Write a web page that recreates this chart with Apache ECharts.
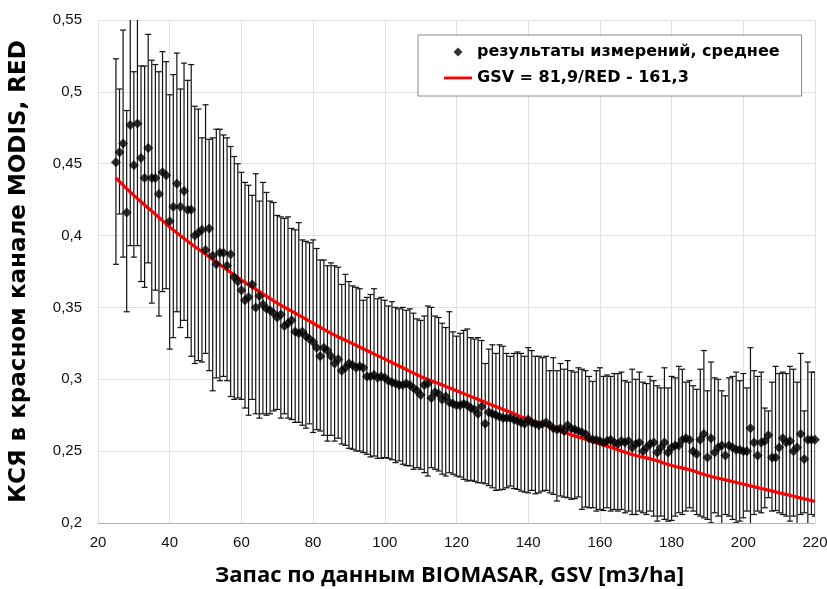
<!DOCTYPE html>
<html><head><meta charset="utf-8">
<script src="https://cdn.jsdelivr.net/npm/echarts@6/dist/echarts.min.js"></script>
<style>html,body{margin:0;padding:0;background:#fff}#c{width:827px;height:589px}</style>
</head><body><div id="c"></div>
<script>
const gsv = [
25,26,27,28,29,30,31,32,33,34,35,36,37,38,39,40,41,42,43,44,
45,46,47,48,49,50,51,52,53,54,55,56,57,58,59,60,61,62,63,64,
65,66,67,68,69,70,71,72,73,74,75,76,77,78,79,80,81,82,83,84,
85,86,87,88,89,90,91,92,93,94,95,96,97,98,99,100,101,102,103,104,
105,106,107,108,109,110,111,112,113,114,115,116,117,118,119,120,121,122,123,124,
125,126,127,128,129,130,131,132,133,134,135,136,137,138,139,140,141,142,143,144,
145,146,147,148,149,150,151,152,153,154,155,156,157,158,159,160,161,162,163,164,
165,166,167,168,169,170,171,172,173,174,175,176,177,178,179,180,181,182,183,184,
185,186,187,188,189,190,191,192,193,194,195,196,197,198,199,200,201,202,203,204,
205,206,207,208,209,210,211,212,213,214,215,216,217,218,219,220];
const meanRed = [
0.451,0.458,0.464,0.416,0.477,0.449,0.478,0.454,0.440,0.461,
0.440,0.440,0.429,0.444,0.442,0.410,0.420,0.436,0.420,0.431,
0.418,0.418,0.400,0.402,0.404,0.390,0.405,0.386,0.380,0.388,
0.388,0.379,0.387,0.371,0.368,0.362,0.355,0.357,0.366,0.350,
0.358,0.352,0.349,0.348,0.346,0.343,0.345,0.337,0.339,0.341,
0.333,0.332,0.333,0.330,0.328,0.326,0.322,0.316,0.322,0.320,
0.316,0.311,0.314,0.306,0.308,0.311,0.310,0.308,0.309,0.308,
0.302,0.302,0.303,0.301,0.302,0.301,0.299,0.298,0.297,0.296,
0.296,0.297,0.296,0.294,0.292,0.289,0.296,0.297,0.287,0.291,
0.290,0.286,0.288,0.284,0.283,0.282,0.282,0.283,0.282,0.280,
0.279,0.276,0.281,0.269,0.277,0.276,0.275,0.274,0.273,0.273,
0.273,0.272,0.271,0.270,0.269,0.272,0.270,0.269,0.268,0.269,
0.270,0.268,0.266,0.265,0.266,0.264,0.268,0.266,0.265,0.264,
0.263,0.262,0.259,0.258,0.258,0.257,0.256,0.257,0.258,0.256,
0.255,0.257,0.256,0.257,0.2525,0.255,0.256,0.250,0.2525,0.255,
0.256,0.249,0.2525,0.256,0.249,0.2525,0.254,0.254,0.258,0.259,
0.258,0.250,0.248,0.258,0.262,0.2455,0.259,0.249,0.2525,0.254,
0.247,0.254,0.2525,0.251,0.251,0.250,0.250,0.266,0.256,0.247,
0.256,0.257,0.261,0.2455,0.2455,0.2525,0.259,0.256,0.257,0.250,
0.2525,0.262,0.2445,0.258,0.258,0.258];
const upperRed = [
0.523,0.502,0.543,0.487,0.575,0.514,0.580,0.518,0.518,0.540,
0.522,0.519,0.514,0.528,0.521,0.498,0.512,0.527,0.502,0.520,
0.508,0.519,0.490,0.488,0.468,0.491,0.467,0.468,0.474,0.474,
0.470,0.468,0.462,0.455,0.450,0.444,0.437,0.435,0.428,0.443,
0.424,0.437,0.430,0.424,0.423,0.414,0.413,0.412,0.413,0.405,
0.404,0.409,0.397,0.396,0.395,0.397,0.391,0.383,0.383,0.379,
0.381,0.379,0.378,0.366,0.373,0.368,0.365,0.364,0.363,0.355,
0.357,0.359,0.363,0.356,0.357,0.355,0.351,0.354,0.350,0.349,
0.350,0.348,0.349,0.346,0.342,0.341,0.344,0.351,0.350,0.344,
0.343,0.339,0.336,0.347,0.333,0.330,0.332,0.334,0.335,0.329,
0.328,0.329,0.327,0.311,0.321,0.324,0.318,0.324,0.323,0.318,
0.316,0.318,0.319,0.318,0.316,0.322,0.320,0.316,0.316,0.315,
0.316,0.306,0.315,0.306,0.311,0.307,0.313,0.306,0.305,0.308,
0.307,0.306,0.302,0.2985,0.306,0.308,0.302,0.303,0.302,0.304,
0.304,0.305,0.299,0.298,0.307,0.300,0.305,0.298,0.297,0.302,
0.299,0.2955,0.294,0.308,0.294,0.302,0.301,0.309,0.307,0.298,
0.299,0.2955,0.293,0.307,0.320,0.292,0.312,0.301,0.300,0.292,
0.2885,0.301,0.302,0.305,0.299,0.304,0.294,0.322,0.306,0.302,
0.305,0.280,0.278,0.298,0.309,0.304,0.305,0.304,0.309,0.307,
0.298,0.318,0.278,0.312,0.305,0.305];
const lowerRed = [
0.380,0.415,0.385,0.347,0.393,0.385,0.393,0.368,0.364,0.381,
0.353,0.362,0.344,0.361,0.363,0.321,0.329,0.347,0.336,0.341,
0.329,0.316,0.311,0.313,0.312,0.318,0.306,0.292,0.301,0.299,
0.302,0.299,0.288,0.286,0.287,0.286,0.280,0.275,0.286,0.276,
0.273,0.276,0.275,0.276,0.278,0.279,0.273,0.276,0.273,0.272,
0.270,0.270,0.268,0.266,0.269,0.263,0.265,0.264,0.261,0.257,
0.261,0.257,0.259,0.255,0.254,0.252,0.2513,0.2501,0.2501,0.249,
0.2478,0.246,0.2466,0.245,0.245,0.2455,0.245,0.244,0.242,0.2432,
0.2409,0.240,0.2397,0.2374,0.2385,0.2374,0.235,0.2327,0.2385,0.2374,
0.2362,0.234,0.2327,0.235,0.2339,0.2327,0.232,0.2304,0.2292,0.2297,
0.229,0.228,0.228,0.2273,0.226,0.2245,0.2227,0.223,0.2234,0.2245,
0.2257,0.224,0.2234,0.2222,0.2215,0.221,0.2227,0.2203,0.221,0.2222,
0.2227,0.221,0.2199,0.2153,0.2188,0.218,0.2176,0.2165,0.217,0.2181,
0.2095,0.2111,0.2106,0.2106,0.2083,0.2094,0.2087,0.2106,0.2083,0.2094,
0.2083,0.2094,0.2071,0.2083,0.2059,0.2059,0.2083,0.2071,0.2059,0.2083,
0.2048,0.2013,0.2048,0.2025,0.2013,0.2018,0.2048,0.2071,0.2059,0.2083,
0.2106,0.2083,0.2059,0.2048,0.2036,0.2025,0.2001,0.2071,0.2048,0.196,
0.2059,0.2048,0.2025,0.2001,0.2013,0.2036,0.2083,0.196,0.2059,0.2083,
0.2071,0.2106,0.2176,0.2083,0.2087,0.2071,0.2059,0.2048,0.2013,0.2048,
0.197,0.2059,0.2071,0.196,0.2059,0.2048];
const fitGsv = [25,30,35,40,45,50,55,60,65,70,75,80,85,90,95,100,105,110,115,120,
125,130,135,140,145,150,155,160,165,170,175,180,185,190,195,200,205,210,215,220];
const fitRed = [0.440,0.428,0.417,0.406,0.396,0.387,0.378,0.369,0.361,0.353,
0.346,0.339,0.332,0.326,0.320,0.314,0.308,0.302,0.297,0.292,
0.287,0.282,0.277,0.272,0.268,0.263,0.259,0.255,0.251,0.247,
0.244,0.240,0.237,0.233,0.230,0.227,0.224,0.221,0.218,0.215];
const legendNames = ['результаты измерений, среднее', 'GSV = 81,9/RED - 161,3'];
const xTitle = 'Запас по данным BIOMASAR, GSV [m3/ha]';
const yTitle = 'КСЯ в красном канале MODIS, RED';

const chart = echarts.init(document.getElementById('c'), null, {renderer: 'canvas'});
const errData = gsv.map((g, i) => [g, lowerRed[i], upperRed[i]]);
const tickFont = {fontFamily: '"Liberation Sans", Arial, sans-serif', fontSize: 15, color: '#111'};
chart.setOption({
  animation: false,
  backgroundColor: '#fff',
  grid: {left: 98, right: 12, top: 20, bottom: 66, containLabel: false, outerBoundsMode: 'none'},
  legend: {
    left: 418, top: 35, orient: 'vertical',
    data: [
      {name: legendNames[0], icon: 'path://M5,0L10,5L5,10L0,5Z'},
      {name: legendNames[1], icon: 'path://M0,0L30,0L30,3L0,3Z'}
    ],
    itemWidth: 28, itemHeight: 9, itemGap: 10, symbolKeepAspect: true,
    textStyle: {fontFamily: '"DejaVu Sans", sans-serif', fontWeight: 'bold', fontSize: 16, color: '#000'},
    borderColor: '#8a8a8a', borderWidth: 1, backgroundColor: '#fff',
    padding: [9, 22, 10, 26]
  },
  xAxis: {
    type: 'value', min: 20, max: 220, interval: 20,
    name: xTitle, nameLocation: 'middle', nameGap: 42,
    nameTextStyle: {fontFamily: '"Open Sans", "Noto Sans", sans-serif', fontWeight: 'bold', fontSize: 22, color: '#000', padding: [0, 14, 0, 0]},
    axisLine: {show: true, lineStyle: {color: '#b0b0b0'}},
    axisTick: {show: false},
    axisLabel: Object.assign({margin: 12}, tickFont),
    splitLine: {show: true, lineStyle: {color: '#e2e2e2'}}
  },
  yAxis: {
    type: 'value', min: 0.2, max: 0.55, interval: 0.05,
    name: yTitle, nameLocation: 'middle', nameGap: 67, nameRotate: 90,
    nameTextStyle: {fontFamily: '"DejaVu Sans", sans-serif', fontWeight: 'bold', fontSize: 23, color: '#000'},
    axisLine: {show: false},
    axisTick: {show: false},
    axisLabel: Object.assign({margin: 16, formatter: v => String(Math.round(v * 100) / 100).replace('.', ',')}, tickFont),
    splitLine: {show: true, lineStyle: {color: '#e2e2e2'}}
  },
  series: [
    {
      type: 'custom', name: 'err', data: errData, clip: true, silent: true, z: 1,
      encode: {x: 0, y: [1, 2]},
      renderItem: function (params, api) {
        const x = api.value(0);
        const lo = api.coord([x, api.value(1)]);
        const hi = api.coord([x, api.value(2)]);
        const w = 3;
        const st = {stroke: '#111', lineWidth: 1.2, fill: null};
        return {type: 'group', children: [
          {type: 'line', shape: {x1: lo[0], y1: lo[1], x2: hi[0], y2: hi[1]}, style: st},
          {type: 'line', shape: {x1: lo[0] - w, y1: lo[1], x2: lo[0] + w, y2: lo[1]}, style: st},
          {type: 'line', shape: {x1: hi[0] - w, y1: hi[1], x2: hi[0] + w, y2: hi[1]}, style: st}
        ]};
      }
    },
    {
      type: 'line', name: legendNames[1], z: 2,
      data: fitGsv.map((g, i) => [g, fitRed[i]]),
      smooth: true, symbol: 'none',
      lineStyle: {color: '#ff0000', width: 3.2}, itemStyle: {color: '#ff0000'}
    },
    {
      type: 'scatter', name: legendNames[0], z: 3,
      data: gsv.map((g, i) => [g, meanRed[i]]),
      symbol: 'diamond', symbolSize: 10, itemStyle: {color: '#000'}
    }
  ]
});
</script>
</body></html>
